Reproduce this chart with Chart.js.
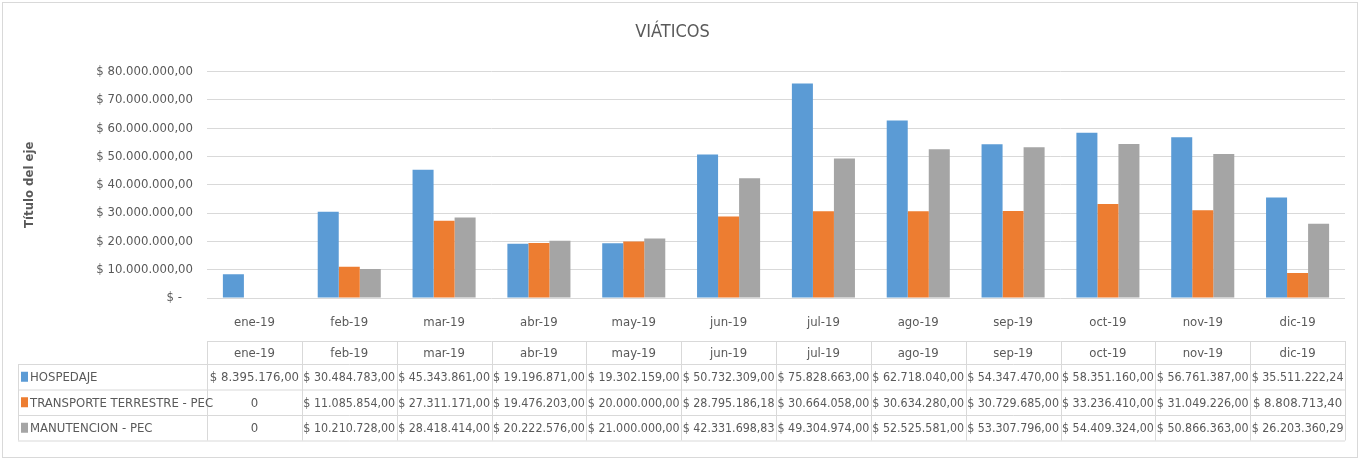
<!DOCTYPE html>
<html>
<head>
<meta charset="utf-8">
<script src="https://cdn.jsdelivr.net/npm/chart.js@4.4.1/dist/chart.umd.min.js"></script>
<style>
  html, body { margin: 0; padding: 0; background: #fff; }
  canvas { display: block; }
</style>
</head>
<body>
<canvas id="chart" width="1361" height="462"></canvas>
<script>
const categories = ["ene-19", "feb-19", "mar-19", "abr-19", "may-19", "jun-19", "jul-19", "ago-19", "sep-19", "oct-19", "nov-19", "dic-19"];
const hospedaje = [8395176, 30484783, 45343861, 19196871, 19302159, 50732309, 75828663, 62718040, 54347470, 58351160, 56761387, 35511222.24];
const transporte = [0, 11085854, 27311171, 19476203, 20000000, 28795186.18, 30664058, 30634280, 30729685, 33236410, 31049226, 8808713.40];
const manutencion = [0, 10210728, 28418414, 20222576, 21000000, 42331698.83, 49304974, 52525581, 53307796, 54409324, 50866363, 26203360.29];
const seriesNames = ["HOSPEDAJE", "TRANSPORTE TERRESTRE - PEC", "MANUTENCION - PEC"];
const yTicks = [0, 10000000, 20000000, 30000000, 40000000, 50000000, 60000000, 70000000, 80000000];

const FONT = "'Liberation Sans Narrow', 'DejaVu Sans Condensed', Arial, sans-serif";
const TEXT = "#595959";
const LINE = "#d9d9d9";
const colors = ["#5b9bd5", "#ed7d31", "#a5a5a5"];

function money(v) {
  const parts = v.toFixed(2).split(".");
  const ent = parts[0].replace(/\B(?=(\d{3})+(?!\d))/g, ".");
  return "$ " + ent + "," + parts[1];
}
function cellText(v) {
  return v === 0 ? "0" : money(v);
}

// dibuja el marco y la tabla de datos debajo del eje
const tablePlugin = {
  id: "dataTable",
  afterDraw(chart) {
    const ctx = chart.ctx;
    const x = chart.scales.x;
    const area = chart.chartArea;
    const n = categories.length;
    const colW = (area.right - area.left) / n;
    const labelLeft = 18;
    const rows = [341, 364, 389.5, 415, 440.5];
    const series = [hospedaje, transporte, manutencion];

    ctx.save();
    // marco exterior
    ctx.strokeStyle = LINE;
    ctx.lineWidth = 1;
    ctx.strokeRect(2.5, 2.5, 1355, 455);

    // lineas de la tabla
    ctx.beginPath();
    ctx.moveTo(area.left, rows[0] + 0.5);
    ctx.lineTo(area.right, rows[0] + 0.5);
    for (let r = 1; r < rows.length; r++) {
      ctx.moveTo(labelLeft, rows[r] + 0.5);
      ctx.lineTo(area.right, rows[r] + 0.5);
    }
    for (let i = 0; i <= n; i++) {
      const cx = Math.round(area.left + i * colW) + 0.5;
      ctx.moveTo(cx, rows[0]);
      ctx.lineTo(cx, rows[4]);
    }
    ctx.moveTo(labelLeft + 0.5, rows[1]);
    ctx.lineTo(labelLeft + 0.5, rows[4]);
    ctx.stroke();

    ctx.fillStyle = TEXT;
    ctx.textBaseline = "middle";
    ctx.textAlign = "center";
    ctx.font = "13px " + FONT;
    for (let i = 0; i < n; i++) {
      const cx = x.getPixelForValue(i);
      ctx.fillText(categories[i], cx, (rows[0] + rows[1]) / 2 + 1);
      for (let s = 0; s < series.length; s++) {
        const cy = (rows[s + 1] + rows[s + 2]) / 2 + 1;
        ctx.fillText(cellText(series[s][i]), cx, cy, colW - 3);
      }
    }
    ctx.textAlign = "left";
    for (let s = 0; s < series.length; s++) {
      const cy = (rows[s + 1] + rows[s + 2]) / 2;
      ctx.fillStyle = colors[s];
      ctx.fillRect(21, cy - 5, 7, 10);
      ctx.fillStyle = TEXT;
      ctx.fillText(seriesNames[s], 30, cy + 1);
    }
    ctx.restore();
  }
};

new Chart(document.getElementById("chart"), {
  type: "bar",
  data: {
    labels: categories,
    datasets: [
      { label: seriesNames[0], data: hospedaje, backgroundColor: colors[0] },
      { label: seriesNames[1], data: transporte, backgroundColor: colors[1] },
      { label: seriesNames[2], data: manutencion, backgroundColor: colors[2] }
    ]
  },
  options: {
    responsive: false,
    animation: false,
    devicePixelRatio: 1,
    categoryPercentage: 0.665,
    barPercentage: 1,
    layout: { padding: { left: 0, right: 16, top: 0, bottom: 0 } },
    plugins: {
      legend: { display: false },
      tooltip: { enabled: false },
      title: {
        display: true,
        text: "VIÁTICOS",
        color: TEXT,
        font: { family: FONT, size: 18, weight: "normal" },
        padding: { top: 22, bottom: 28 }
      }
    },
    scales: {
      x: {
        grid: { display: false },
        border: { display: false },
        ticks: { color: TEXT, font: { family: FONT, size: 13 }, padding: 9 },
        afterFit(s) { s.height = 164; }
      },
      y: {
        min: 0,
        max: 80000000,
        afterBuildTicks(s) { s.ticks = yTicks.map(v => ({ value: v })); },
        grid: { color: LINE, drawTicks: false },
        border: { display: false },
        ticks: {
          color: TEXT,
          font: { family: FONT, size: 13 },
          padding: 14,
          callback: v => v === 0 ? "$ -   " : money(v)
        },
        title: {
          display: true,
          text: "Título del eje",
          color: TEXT,
          font: { family: FONT, size: 13, weight: "bold" },
          padding: { top: 22 }
        },
        afterFit(s) { s.width = 207; }
      }
    }
  },
  plugins: [tablePlugin]
});
</script>
</body>
</html>
